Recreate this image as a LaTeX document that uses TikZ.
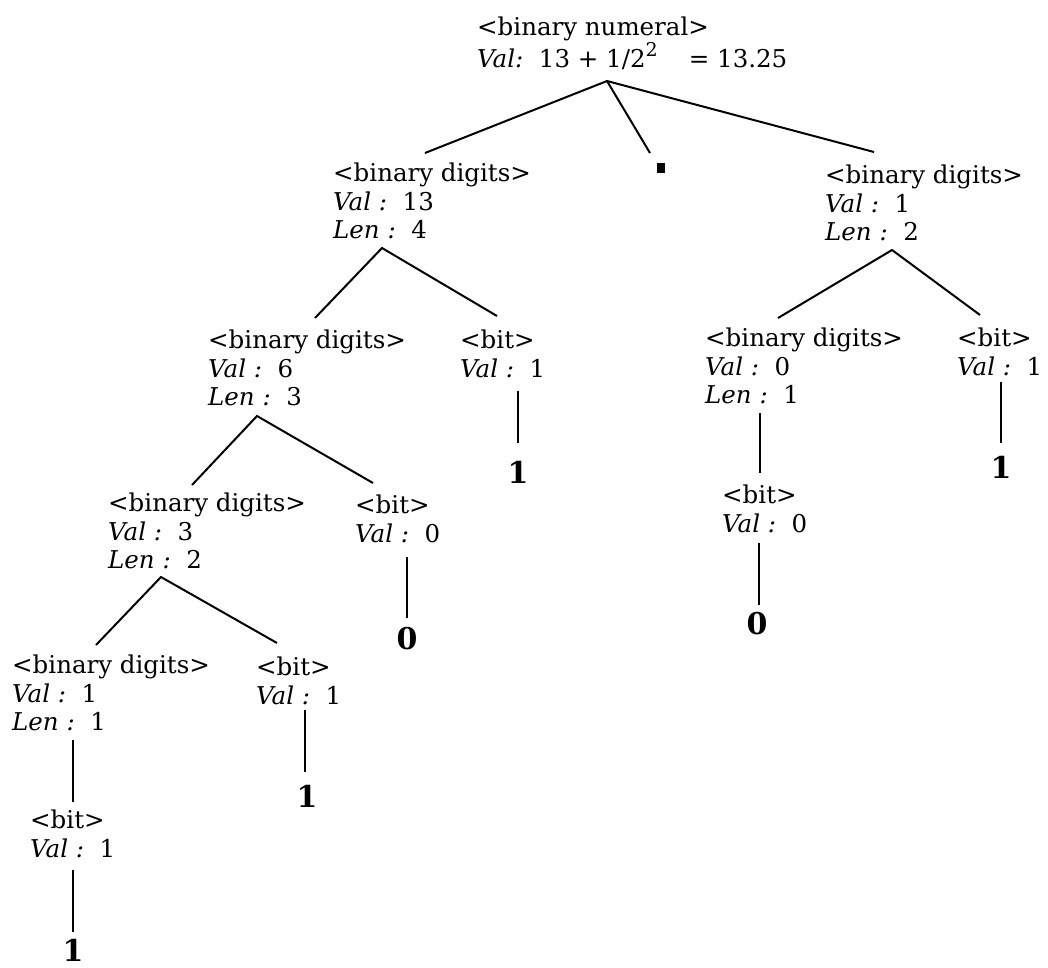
\documentclass[tikz,border=0pt]{standalone}
\usepackage{fontspec}
\setmainfont{DejaVu Serif}
\begin{document}
\begin{tikzpicture}[x=1pt,y=-1pt,
  lab/.style={anchor=north west,inner sep=0pt,align=left,font=\fontsize{24.5}{28.5}\selectfont},
  leaf/.style={inner sep=0pt,font=\fontsize{30}{30}\selectfont\bfseries},
  edge/.style={line width=2pt}]
\useasboundingbox (0,0) rectangle (1048,967);
% nodes
\node[lab] (root) at (477,17) {<binary numeral>\\\textit{Val:}~~13 + 1/2\raisebox{0.45em}{\fontsize{19}{19}\selectfont 2} ~~ = 13.25};
\node[lab] (A) at (333,163) {<binary digits>\\\textit{Val :}~~13\\\textit{Len :}~~4};
\node[fill=black,inner sep=0pt,minimum width=8pt,minimum height=10pt] (dot) at (661,168) {};
\node[lab] (R) at (825,165) {<binary digits>\\\textit{Val :}~~1\\\textit{Len :}~~2};
\node[lab] (B) at (208,330) {<binary digits>\\\textit{Val :}~~6\\\textit{Len :}~~3};
\node[lab] (Ab) at (460,330) {<bit>\\\textit{Val :}~~1};
\node[lab] (C) at (108,493) {<binary digits>\\\textit{Val :}~~3\\\textit{Len :}~~2};
\node[lab] (Bb) at (355,495) {<bit>\\\textit{Val :}~~0};
\node[lab] (D) at (12,655) {<binary digits>\\\textit{Val :}~~1\\\textit{Len :}~~1};
\node[lab] (Cb) at (256,657) {<bit>\\\textit{Val :}~~1};
\node[lab] (Db) at (30,810) {<bit>\\\textit{Val :}~~1};
\node[lab] (Rl) at (705,328) {<binary digits>\\\textit{Val :}~~0\\\textit{Len :}~~1};
\node[lab] (Rr) at (957,328) {<bit>\\\textit{Val :}~~1};
\node[lab] (Rlb) at (722,485) {<bit>\\\textit{Val :}~~0};
\node[leaf] (Abl) at (518,472) {1};
\node[leaf] (Bbl) at (407,639) {0};
\node[leaf] (Cbl) at (307,796) {1};
\node[leaf] (Dbl) at (73,950) {1};
\node[leaf] (Rlbl) at (757,624) {0};
\node[leaf] (Rrl) at (1001,467) {1};
% connector points
\coordinate (root-dn) at (607,81);
\coordinate (A-up) at (425,153);
\coordinate (dot-up) at (650,153);
\coordinate (R-up) at (874,152);
\coordinate (A-dn) at (382,248);
\coordinate (B-up) at (315,318);
\coordinate (Ab-up) at (497,316);
\coordinate (B-dn) at (257,416);
\coordinate (C-up) at (192,485);
\coordinate (Bb-up) at (373,483);
\coordinate (Ab-dn) at (518,391);
\coordinate (Abl-up) at (518,443);
\coordinate (C-dn) at (161,577);
\coordinate (D-up) at (96,645);
\coordinate (Cb-up) at (277,643);
\coordinate (Bb-dn) at (407,557);
\coordinate (Bbl-up) at (407,618);
\coordinate (D-dn) at (73,740);
\coordinate (Db-up) at (73,802);
\coordinate (Db-dn) at (73,870);
\coordinate (Dbl-up) at (73,932);
\coordinate (Cb-dn) at (305,710);
\coordinate (Cbl-up) at (305,772);
\coordinate (R-dn) at (892,250);
\coordinate (Rl-up) at (778,318);
\coordinate (Rr-up) at (980,315);
\coordinate (Rl-dn) at (760,413);
\coordinate (Rlb-up) at (760,473);
\coordinate (Rlb-dn) at (759,543);
\coordinate (Rlbl-up) at (759,605);
\coordinate (Rr-dn) at (1001,382);
\coordinate (Rrl-up) at (1001,443);
% connectors
\draw[edge] (A-up) -- (root-dn) -- (R-up);
\draw[edge] (root-dn) -- (dot-up);
\draw[edge] (B-up) -- (A-dn) -- (Ab-up);
\draw[edge] (C-up) -- (B-dn) -- (Bb-up);
\draw[edge] (D-up) -- (C-dn) -- (Cb-up);
\draw[edge] (Rl-up) -- (R-dn) -- (Rr-up);
\draw[edge] (Ab-dn) -- (Abl-up);
\draw[edge] (Bb-dn) -- (Bbl-up);
\draw[edge] (Cb-dn) -- (Cbl-up);
\draw[edge] (D-dn) -- (Db-up);
\draw[edge] (Db-dn) -- (Dbl-up);
\draw[edge] (Rl-dn) -- (Rlb-up);
\draw[edge] (Rlb-dn) -- (Rlbl-up);
\draw[edge] (Rr-dn) -- (Rrl-up);
\end{tikzpicture}
\end{document}
